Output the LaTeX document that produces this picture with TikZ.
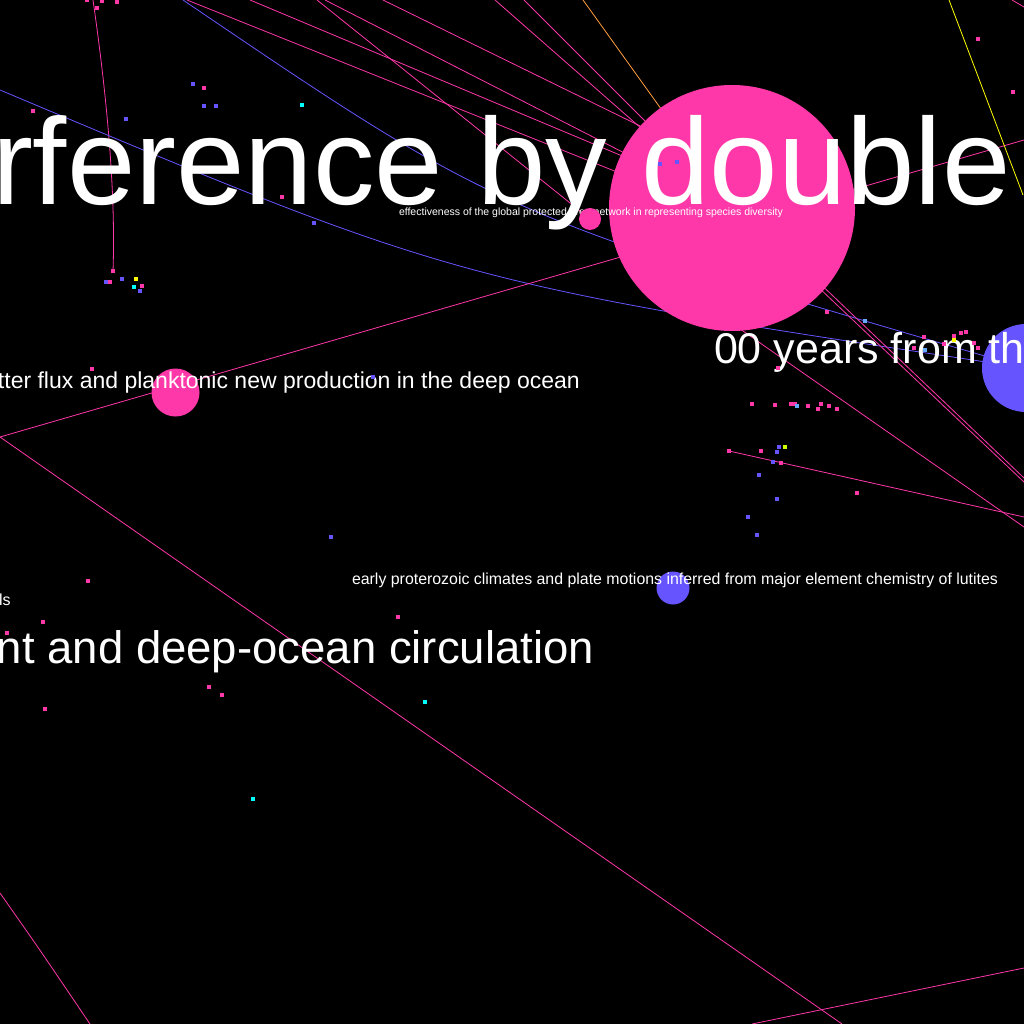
\documentclass[tikz,border=0pt]{standalone}
\usepackage{fontspec}
\setmainfont{Liberation Sans}
\definecolor{pk}{HTML}{FF38AA}
\definecolor{bl}{HTML}{6655FF}
\definecolor{cy}{HTML}{00FFFF}
\definecolor{yl}{HTML}{FFFF00}
\definecolor{og}{HTML}{FFA040}
\definecolor{lb}{HTML}{66AAFF}
\definecolor{lg}{HTML}{CCFF00}
\newcommand{\fsz}[1]{\fontsize{#1}{#1}\selectfont}
\begin{document}
\begin{tikzpicture}[x=1pt,y=-1pt,
  edge/.style={line width=0.8pt},
  bubble/.style={circle,inner sep=0pt,outer sep=0pt},
  lbl/.style={text=white,inner sep=0pt,outer sep=0pt,anchor=base west},
  dotsq/.style={inner sep=0pt,outer sep=0pt,minimum size=3.5pt}]
\useasboundingbox (0,0) rectangle (1024,1024);
\fill[black] (0,0) rectangle (1024,1024);
\clip (0,0) rectangle (1024,1024);
% anchor coordinates
\coordinate (big) at (732,208);
\coordinate (bright) at (1026,368);
\coordinate (pleft) at (0,437);
\coordinate (pright) at (1024,140);
\coordinate (pbot) at (842,1024);
\coordinate (t1) at (187,0);
\coordinate (t2) at (250,0);
\coordinate (t3) at (317,0);
\coordinate (t4) at (325,0);
\coordinate (t5) at (383,0);
\coordinate (t6) at (495,0);
\coordinate (t7) at (524,0);
\coordinate (t8) at (583,0);
\coordinate (tb) at (183,0);
\coordinate (vb) at (93,0);
\coordinate (ve) at (113,271);
\coordinate (ba) at (0,90);
\coordinate (e1) at (1024,482);
\coordinate (e2) at (1024,478);
\coordinate (e3) at (1024,527);
\coordinate (e4) at (1024,517);
\coordinate (s6) at (729,451);
\coordinate (bl1) at (752,1024);
\coordinate (bl2) at (1024,968);
\coordinate (bb1) at (0,893);
\coordinate (bb2) at (90,1024);
\coordinate (y1) at (949,0);
\coordinate (y2) at (1023,195);
\coordinate (c1) at (1012,0);
\coordinate (c2) at (1024,7);
\coordinate (i1) at (780,251);
\coordinate (i2) at (790,255);
\coordinate (i3) at (720,315);
\coordinate (i5) at (732,171);
% lines
\draw[edge,pk] (vb) .. controls (106,90) and (116,190) .. (ve);
\draw[edge,bl] (ba) .. controls (459,283) .. (bright);
\draw[edge,bl] (tb) .. controls (500,215) .. (bright);
\draw[edge,pk] (pleft) -- (pright);
\draw[edge,pk] (pleft) -- (pbot);
\draw[edge,pk] (t1) -- (732,218);
\draw[edge,pk] (t2) -- (732,202);
\draw[edge,pk] (t3) -- (590,219);
\draw[edge,pk] (t4) -- (big);
\draw[edge,pk] (t5) -- (i5);
\draw[edge,pk] (t6) -- (big);
\draw[edge,pk] (t7) -- (big);
\draw[edge,og] (t8) -- (big);
\draw[edge,pk] (i1) -- (e1);
\draw[edge,pk] (i2) -- (e2);
\draw[edge,pk] (i3) -- (e3);
\draw[edge,pk] (s6) -- (e4);
\draw[edge,pk] (bl1) -- (bl2);
\draw[edge,pk] (bb1) .. controls (40,950) .. (bb2);
\draw[edge,yl] (y1) -- (y2);
\draw[edge,pk] (c1) -- (c2);
% circles
\node[bubble,fill=pk,minimum size=246pt] (nbig) at (big) {};
\node[bubble,fill=pk,minimum size=48pt] (nleft) at (175.5,392.5) {};
\node[bubble,fill=bl,minimum size=88pt] (nright) at (bright) {};
\node[bubble,fill=bl,minimum size=33pt] (nmid) at (673,588) {};
% texts
\node[lbl,font=\fsz{123}] (title) at (-8,205) {rference by double};
\node[lbl,font=\fsz{10.5}] (small) at (399,215) {effectiveness of the global protected area network in representing species diversity};
\node[lbl,font=\fsz{43}] (years) at (714,363) {00 years from th};
\node[lbl,font=\fsz{23}] (flux) at (-2,388) {tter flux and planktonic new production in the deep ocean};
\node[lbl,font=\fsz{15.9}] (lut) at (352,584) {early proterozoic climates and plate motions inferred from major element chemistry of lutites};
\node[lbl,font=\fsz{16}] (ls) at (-1,605) {ls};
\node[lbl,font=\fsz{45.5}] (circ) at (-3,663) {nt and deep-ocean circulation};
\node[bubble,fill=pk,minimum size=22pt] (nsmall) at (590,219) {};
% dots
\foreach \p in {(33,111),(204,88),(282,197),(113,271),(110,282),(142,286),(87,0),(102,1),(117,2),(97,8),
  (978,39),(1013,92),(827,312),(924,337),(954,336),(961,333),(966,332),(944,344),(914,348),(974,343),(978,348),
  (778,368),(752,404),(775,405),(791,404),(795,404),(808,406),(821,404),(829,406),(818,409),(837,409),
  (761,451),(729,451),(781,463),(857,493),(92,369),(88,581),(43,622),(7,633),(398,617),(209,687),(222,695),(45,709)}
  \node[dotsq,fill=pk] at \p {};
\foreach \p in {(193,84),(204,106),(216,106),(126,119),(314,223),(106,282),(122,279),(140,291),(660,164),(677,162),
  (779,447),(777,452),(773,462),(759,475),(777,499),(748,517),(757,535),(331,537),(373,377)}
  \node[dotsq,fill=bl] at \p {};
\foreach \p in {(302,105),(134,287),(425,702),(253,799)}
  \node[dotsq,fill=cy] at \p {};
\foreach \p in {(136,279),(954,340)}
  \node[dotsq,fill=yl] at \p {};
\foreach \p in {(865,321),(925,350),(797,406)}
  \node[dotsq,fill=lb] at \p {};
\node[dotsq,fill=lg] at (785,447) {};
\end{tikzpicture}
\end{document}
